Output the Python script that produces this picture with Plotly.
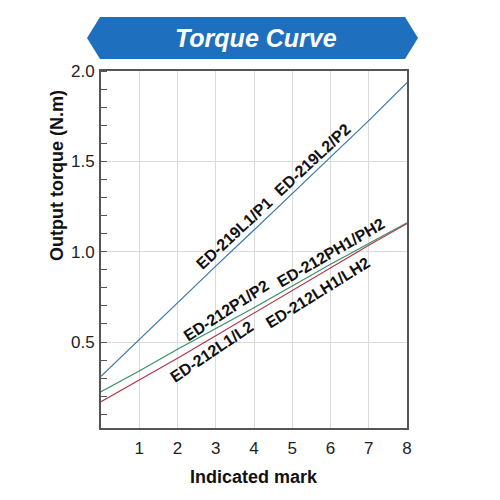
import plotly.graph_objects as go

marks = [0, 1, 2, 3, 4, 5, 6, 7, 8]
ed219 = [0.31, 0.515, 0.72, 0.92, 1.12, 1.32, 1.52, 1.725, 1.935]
ed212p = [0.225, 0.34, 0.46, 0.575, 0.69, 0.81, 0.93, 1.045, 1.16]
ed212l = [0.17, 0.29, 0.41, 0.535, 0.66, 0.785, 0.91, 1.035, 1.155]

x_ticks = [1, 2, 3, 4, 5, 6, 7, 8]
y_ticks = [0.5, 1.0, 1.5, 2.0]
y_tick_text = ["0.5", "1.0", "1.5", "2.0"]

labels = ["ED-219L1/P1", "ED-219L2/P2", "ED-212P1/P2", "ED-212PH1/PH2", "ED-212L1/L2", "ED-212LH1/LH2"]
label_x = [3.48, 5.54, 3.27, 6.01, 2.90, 5.67]
label_y = [1.10, 1.51, 0.677, 0.998, 0.445, 0.776]
label_angle = [-43, -43, -33, -30, -34, -32]

FONT = "Arial, Liberation Sans, sans-serif"
OFF = 8  # default page body margin

fig = go.Figure()
fig.add_trace(go.Scatter(x=marks, y=ed219, mode="lines", line=dict(color="#3a78a8", width=1.2)))
fig.add_trace(go.Scatter(x=marks, y=ed212p, mode="lines", line=dict(color="#3d8f68", width=1.2)))
fig.add_trace(go.Scatter(x=marks, y=ed212l, mode="lines", line=dict(color="#b03a4c", width=1.2)))

for t, x, y, a in zip(labels, label_x, label_y, label_angle):
    fig.add_annotation(x=x, y=y, xref="x", yref="y", text="<b>%s</b>" % t, showarrow=False,
                       textangle=a, xanchor="center", yanchor="middle",
                       font=dict(family=FONT, size=16, color="#111"))

def px2paper(px, py):
    return (px - 101) / 306, (428 - py) / 357

# axis titles
ax_, ay_ = px2paper(57, 176)
fig.add_annotation(x=ax_, y=ay_, xref="paper", yref="paper", text="<b>Output torque (N.m)</b>",
                   showarrow=False, textangle=-90, xanchor="center", yanchor="middle",
                   font=dict(family=FONT, size=18, color="#111"))
bx_, by_ = px2paper(254, 477)
fig.add_annotation(x=bx_, y=by_, xref="paper", yref="paper", text="<b>Indicated mark</b>",
                   showarrow=False, xanchor="center", yanchor="middle",
                   font=dict(family=FONT, size=18, color="#111"))

# title banner
pts = [(87, 38), (100, 17), (405, 17), (418, 38), (405, 59), (100, 59)]
conv = [px2paper(*p) for p in pts]
path = "M " + " L ".join("%f,%f" % p for p in conv) + " Z"
fig.add_shape(type="path", path=path, xref="paper", yref="paper",
              fillcolor="#1f6fbf", line=dict(width=0), layer="below")
tx, ty = px2paper(256, 38)
fig.add_annotation(x=tx, y=ty, xref="paper", yref="paper", text="<b><i>Torque Curve</i></b>",
                   showarrow=False, xanchor="center", yanchor="middle",
                   font=dict(family=FONT, size=25, color="white"))

fig.update_layout(
    width=500, height=500,
    margin=dict(l=101 - OFF, r=500 - 306 - (101 - OFF), t=71 - OFF, b=500 - 357 - (71 - OFF)),
    paper_bgcolor="white", plot_bgcolor="white",
    showlegend=False,
    font=dict(family=FONT, color="#222"),
)
fig.update_xaxes(range=[0, 8], tickvals=x_ticks, ticktext=[str(v) for v in x_ticks],
                 showgrid=True, gridcolor="#dadada", gridwidth=1,
                 showline=True, linecolor="#555", linewidth=2, mirror=True,
                 ticks="", ticklabelstandoff=4, tickfont=dict(size=17, color="#222"),
                 zeroline=False)
fig.update_yaxes(range=[0.024, 2.0], tickvals=y_ticks, ticktext=y_tick_text,
                 showgrid=True, gridcolor="#dadada", gridwidth=1,
                 showline=True, linecolor="#555", linewidth=2, mirror=True,
                 ticks="", tickfont=dict(size=17, color="#222"), ticklabelstandoff=1,
                 minor=dict(dtick=0.1, tick0=0, ticks="inside", ticklen=6, tickcolor="#555", showgrid=False),
                 zeroline=False)

fig.write_html("out.html")
